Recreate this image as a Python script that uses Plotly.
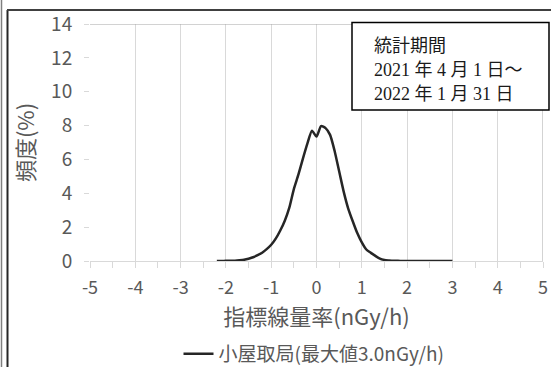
import plotly.graph_objects as go

# Indicator dose-rate bins (nGy/h) and frequency (%)
rate = [-2.2, -2.1, -2.0, -1.9, -1.8, -1.7, -1.6, -1.5, -1.4, -1.3,
        -1.2, -1.1, -1.0, -0.9, -0.8, -0.7, -0.6, -0.5, -0.4, -0.3,
        -0.2, -0.1, 0.0, 0.1, 0.2, 0.3, 0.4, 0.5, 0.6, 0.7,
        0.8, 0.9, 1.0, 1.1, 1.2, 1.3, 1.4, 1.5, 1.6, 1.7,
        1.8, 1.9, 2.0, 2.1, 2.2, 2.3, 2.4, 2.5, 2.6, 2.7,
        2.8, 2.9, 3.0]
freq = [0.00, 0.00, 0.01, 0.01, 0.02, 0.04, 0.07, 0.13, 0.22, 0.34,
        0.49, 0.70, 0.96, 1.32, 1.80, 2.38, 3.15, 4.25, 5.10, 6.05,
        6.95, 7.70, 7.35, 7.97, 7.85, 7.45, 6.50, 5.30, 4.10, 3.10,
        2.35, 1.65, 1.10, 0.68, 0.48, 0.30, 0.14, 0.06, 0.03, 0.01,
        0.01, 0.00, 0.00, 0.00, 0.00, 0.00, 0.00, 0.00, 0.00, 0.00,
        0.00, 0.00, 0.00]

x_ticks = [-5, -4, -3, -2, -1, 0, 1, 2, 3, 4, 5]
x_ticktext = ["-5", "-4", "-3", "-2", "-1", "0", "1", "2", "3", "4", "5"]
y_ticks = [0, 2, 4, 6, 8, 10, 12, 14]

series_name = "小屋取局(最大値3.0nGy/h)"
period_lines = ["統計期間", "2021 年 4 月 1 日～", "2022 年 1 月 31 日"]

SANS = "Noto Sans CJK JP"
SERIF = "'Liberation Serif', 'Noto Sans CJK JP', serif"
LABEL = "#595959"
GRID = "#d9d9d9"

# plot area in pixels: x 90..543, y 24..261
L, R, T, B = 90, 8, 24, 106
W, H = 551, 367
PW, PH = W - L - R, H - T - B


def px(x):
    return (x - L) / PW


def py(y):
    return (H - B - y) / PH


fig = go.Figure()
fig.add_trace(go.Scatter(
    x=rate, y=freq, mode="lines", name=series_name,
    line=dict(color="#262626", width=2.5, shape="spline", smoothing=0.6),
))

shapes = [
    # top and right edges of the plot area
    dict(type="line", xref="x", yref="y", x0=-5, x1=5, y0=14, y1=14,
         line=dict(color="#a6a6a6", width=1)),
    dict(type="line", xref="x", yref="y", x0=5, x1=5, y0=0, y1=14,
         line=dict(color="#a6a6a6", width=1)),
    # outer frame
    dict(type="line", xref="paper", yref="paper", x0=px(1.5), x1=px(1.5),
         y0=py(0), y1=py(H), line=dict(color="#7f7f7f", width=1.5)),
    dict(type="line", xref="paper", yref="paper", x0=px(7.5), x1=px(7.5),
         y0=py(10), y1=py(H), line=dict(color="#262626", width=2)),
    dict(type="line", xref="paper", yref="paper", x0=px(7), x1=px(W),
         y0=py(10), y1=py(10), line=dict(color="#404040", width=2)),
    # statistics period box
    dict(type="rect", xref="paper", yref="paper", x0=px(352), x1=px(549),
         y0=py(110), y1=py(22.5), fillcolor="white",
         line=dict(color="black", width=1.5), layer="above"),
]

annotations = []
for text, yc in zip(period_lines, [45.6, 69.5, 94]):
    annotations.append(dict(
        xref="paper", yref="paper", x=px(372), y=py(yc), text=text,
        showarrow=False, xanchor="left", yanchor="middle",
        font=dict(family=SERIF, size=18, color="#1a1a1a"),
    ))

fig.update_layout(
    width=W, height=H,
    margin=dict(l=L, r=R, t=T, b=B, autoexpand=False),
    plot_bgcolor="white", paper_bgcolor="white",
    font=dict(family=SANS, color=LABEL),
    shapes=shapes, annotations=annotations,
    showlegend=True,
    legend=dict(orientation="h", xref="container", yref="container",
                x=314 / W, xanchor="center",
                y=(H - 354) / H, yanchor="middle",
                font=dict(family=SANS, size=19, color=LABEL),
                itemwidth=30),
    xaxis=dict(
        range=[-5, 5], tickvals=x_ticks, ticktext=x_ticktext,
        automargin=False,
        showgrid=True, gridcolor=GRID, gridwidth=1, zeroline=False,
        showline=True, linecolor=GRID, linewidth=1,
        ticks="outside", ticklen=6, tickcolor=GRID,
        minor=dict(dtick=0.5, tick0=0, ticks="outside", ticklen=6,
                   tickcolor=GRID, showgrid=False),
        tickfont=dict(size=18, color=LABEL), ticklabelstandoff=4,
        title=dict(text="指標線量率(nGy/h)", font=dict(size=22, color=LABEL),
                   standoff=8),
    ),
    yaxis=dict(
        range=[0, 14], tickvals=y_ticks, showgrid=False, zeroline=False,
        automargin=False,
        showline=False, ticks="outside", ticklen=5, tickcolor=GRID,
        tickfont=dict(size=19, color=LABEL), ticklabelstandoff=8,
        title=dict(text="頻度(%)", font=dict(size=22, color=LABEL),
                   standoff=10),
    ),
)

fig.write_html("out.html")
